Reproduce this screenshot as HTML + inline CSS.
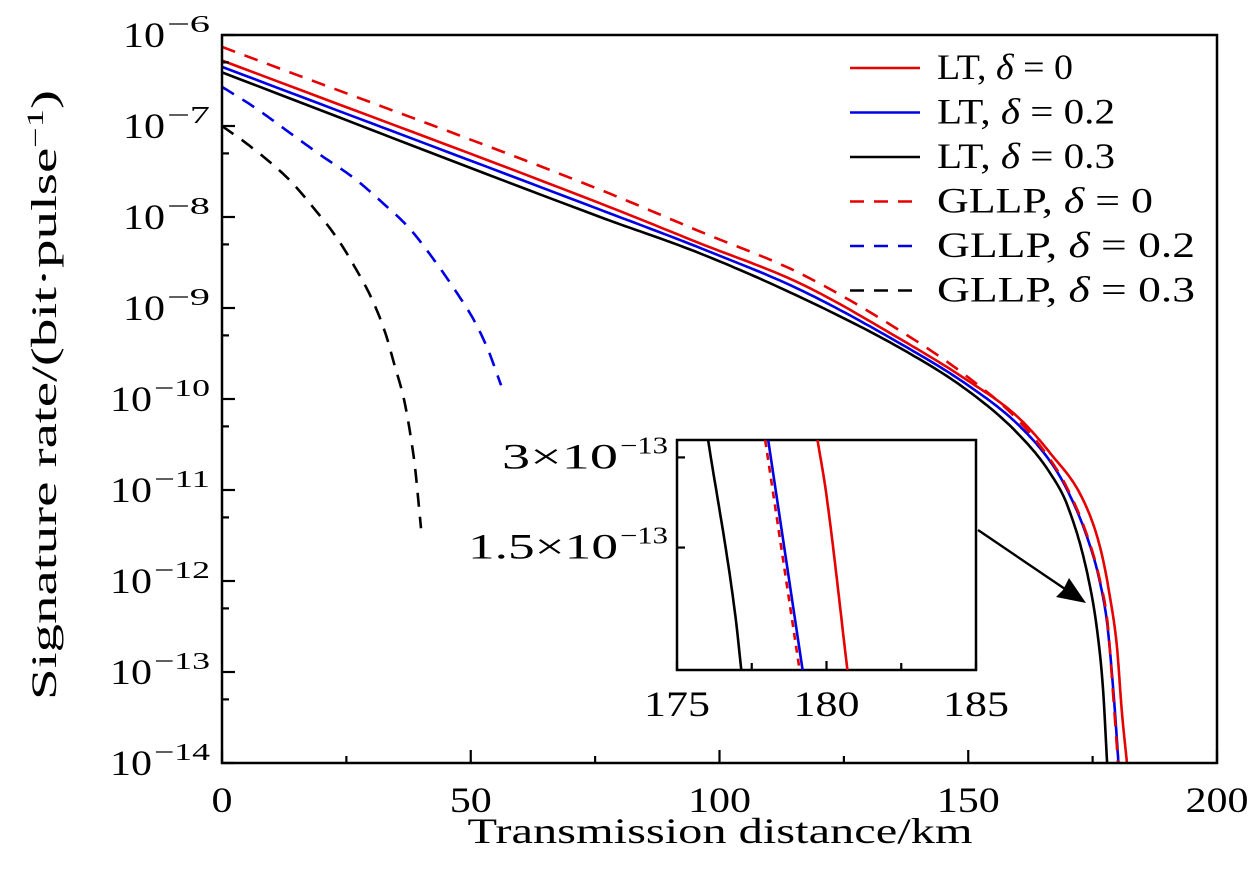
<!DOCTYPE html>
<html><head><meta charset="utf-8"><style>
body{margin:0;background:#fff}
svg{font-family:"Liberation Serif",serif}
</style></head><body>
<svg id="c" width="1260" height="890" viewBox="0 0 1260 890" xmlns="http://www.w3.org/2000/svg"></svg>
<script>
const xTicks=[0,50,100,150,200];
const xMinor=[25,75,125,175];
const yDecades=[-6,-7,-8,-9,-10,-11,-12,-13,-14];
const ltD0X=[0,76,96.1,116.2,136.3,149.7,159.8,166.4,173.1,176.5,178.5,179.9,180.9,181.9];
const ltD0Y=[-6.28,-7.85,-8.29,-8.73,-9.34,-9.79,-10.19,-10.59,-11.11,-11.63,-12.18,-12.73,-13.45,-14];
const ltD2X=[0,76,96.1,116.2,136.3,149.7,159.8,166.4,169.8,173.9,176.5,178,179.2,180.2];
const ltD2Y=[-6.35,-7.92,-8.34,-8.80,-9.39,-9.84,-10.27,-10.68,-10.99,-11.52,-12.02,-12.5,-13.23,-14];
const ltD3X=[0,76,96.1,116.2,136.3,149.7,159.8,166.4,170.0,173.9,175.9,177.1,177.9];
const ltD3Y=[-6.41,-8.0,-8.40,-8.88,-9.44,-9.90,-10.37,-10.81,-11.18,-11.91,-12.54,-13.2,-14];
const glD0X=[0,76,96.1,116.2,136.3,149.7,159.8,166.4,169.8,173.9,176.5,178,179.1,180.1];
const glD0Y=[-6.13,-7.70,-8.16,-8.62,-9.25,-9.75,-10.22,-10.66,-10.97,-11.5,-12.0,-12.46,-13.23,-14];
const glD2X=[0,6.4,13.5,20.1,26.7,32.2,37.6,42.2,46.8,50.9,53.7,56.1];
const glD2Y=[-6.57,-6.79,-7.07,-7.33,-7.58,-7.84,-8.12,-8.44,-8.80,-9.16,-9.49,-9.85];
const glD3X=[0,5.6,13.5,18.7,23.1,26.7,30.2,32.8,34.8,36.6,37.8,38.8,39.6,40.0];
const glD3Y=[-7.0,-7.22,-7.59,-7.92,-8.23,-8.55,-8.91,-9.27,-9.65,-10.01,-10.37,-10.75,-11.19,-11.42];
const inXTicks=[175,180,185];
const inXMinor=[177.5,182.5];
const inYTicks=[3e-13,1.5e-13];
const inYLabels=["3","1.5"];
const inLt0X=[179.7,180.0,180.7], inLt0Y=[-12.465,-12.65,-13.233];
const inLt2X=[178.05,179.2], inLt2Y=[-12.465,-13.233];
const inLt3X=[176.04,176.95,177.15], inLt3Y=[-12.465,-13.05,-13.233];
const inGl0X=[177.95,179.1], inGl0Y=[-12.465,-13.233];
const legendLabels=["LT, ","LT, ","LT, ","GLLP, ","GLLP, ","GLLP, "];
const legendDeltas=["0","0.2","0.3","0","0.2","0.3"];

const NS="http://www.w3.org/2000/svg";
const svg=document.getElementById('c');
const L=222,R=1217,T=35,B=763;
const X=v=>L+(v-0)/200*(R-L);
const Y=lg=>T+(-6-lg)/8*(B-T);
const IL=677,IR=976,IT=440,IB=670,IYmin=Math.log10(5.85e-14),IYmax=Math.log10(3.43e-13);
const IX=v=>IL+(v-175)/10*(IR-IL);
const IY=lg=>IB-(lg-IYmin)/(IYmax-IYmin)*(IB-IT);
function el(tag,attrs,parent){const e=document.createElementNS(NS,tag);for(const k in attrs)e.setAttribute(k,attrs[k]);(parent||svg).appendChild(e);return e;}
const defs=el('defs',{});
const cp=el('clipPath',{id:'mainclip'},defs);el('rect',{x:L,y:T,width:R-L,height:B-T},cp);
const cp2=el('clipPath',{id:'inclip'},defs);el('rect',{x:IL,y:IT,width:IR-IL,height:IB-IT},cp2);

function smooth(xs,ys){
  const n=xs.length; if(n<3) return xs.map((x,i)=>[x,ys[i]]);
  const d=[],m=[];
  for(let i=0;i<n-1;i++) d.push((ys[i+1]-ys[i])/(xs[i+1]-xs[i]));
  m[0]=d[0]; m[n-1]=d[n-2];
  for(let i=1;i<n-1;i++) m[i]=(d[i-1]*d[i]<=0)?0:(d[i-1]+d[i])/2;
  for(let i=0;i<n-1;i++){ if(d[i]===0){m[i]=m[i+1]=0;continue;}
    const a=m[i]/d[i],b=m[i+1]/d[i],s=a*a+b*b; if(s>9){const t=3/Math.sqrt(s);m[i]=t*a*d[i];m[i+1]=t*b*d[i];}}
  const out=[];
  for(let i=0;i<n-1;i++){const h=xs[i+1]-xs[i];
    for(let k=0;k<20;k++){const t=k/20,t2=t*t,t3=t2*t;
      const y=(2*t3-3*t2+1)*ys[i]+(t3-2*t2+t)*h*m[i]+(-2*t3+3*t2)*ys[i+1]+(t3-t2)*h*m[i+1];
      out.push([xs[i]+t*h,y]);}}
  out.push([xs[n-1],ys[n-1]]);
  return out;
}
function series(xs,ys,color,dash,name,fx,fy,clip){
  const pts=smooth(xs,ys);
  let d=pts.map((p,i)=>(i?'L':'M')+fx(p[0]).toFixed(1)+','+fy(p[1]).toFixed(1)).join('');
  const p=el('path',{d:d,fill:'none',stroke:color,'stroke-width':2.6,'clip-path':'url(#'+clip+')'});
  if(dash)p.setAttribute('stroke-dasharray',dash);
  
  
}
series(glD3X,glD3Y,'#000','14,10','gllp-delta-0.3-line',X,Y,'mainclip');
series(glD2X,glD2Y,'#0000e6','14,10','gllp-delta-0.2-line',X,Y,'mainclip');
series(ltD3X,ltD3Y,'#000',null,'lt-delta-0.3-line',X,Y,'mainclip');
series(ltD2X,ltD2Y,'#0000e6',null,'lt-delta-0.2-line',X,Y,'mainclip');
series(ltD0X,ltD0Y,'#e60000',null,'lt-delta-0-line',X,Y,'mainclip');
series(glD0X,glD0Y,'#e60000','14,10','gllp-delta-0-line',X,Y,'mainclip');

const FS=36;
const fr=el('rect',{x:L,y:T,width:R-L,height:B-T,fill:'none',stroke:'#000','stroke-width':2.5});

xTicks.forEach(v=>{
  el('line',{x1:X(v),x2:X(v),y1:B,y2:B-13,stroke:'#000','stroke-width':2.2});
  const s=String(v);
  const t=el('text',{x:X(v),y:812,'font-size':FS,'text-anchor':'middle',textLength:s.length*21,lengthAdjust:'spacingAndGlyphs'});t.textContent=s;
  
});
xMinor.forEach(v=>el('line',{x1:X(v),x2:X(v),y1:B,y2:B-7,stroke:'#000','stroke-width':2.2}));
yDecades.forEach(d=>{
  el('line',{x1:L,x2:L+13,y1:Y(d),y2:Y(d),stroke:'#000','stroke-width':2.2});
  if(d>-14){const m=d-1+Math.log10(5);el('line',{x1:L,x2:L+7,y1:Y(m),y2:Y(m),stroke:'#000','stroke-width':2.2});}
  const sup=(d<=-10)?58:45;
  const t=el('text',{x:210-sup,y:Y(d)+12,'font-size':FS,'text-anchor':'end',textLength:42,lengthAdjust:'spacingAndGlyphs'});
  t.textContent='10';
  
  const s=el('text',{x:210-sup+2,y:Y(d)-3,'font-size':24,textLength:sup-2,lengthAdjust:'spacingAndGlyphs'});
  s.textContent='−'+(-d);
  
});
const xt=el('text',{x:720,y:843,'font-size':FS,'text-anchor':'middle',textLength:505,lengthAdjust:'spacingAndGlyphs'});xt.textContent='Transmission distance/km';

const yt=el('text',{x:0,y:0,'font-size':FS,'text-anchor':'middle',transform:'translate(56,395) rotate(-90)',textLength:610,lengthAdjust:'spacingAndGlyphs'});
yt.innerHTML='Signature rate/(bit·pulse<tspan dy="-13" font-size="23">−1</tspan><tspan dy="13">)</tspan>';


const lc=['#e60000','#0000e6','#000','#e60000','#0000e6','#000'];
legendLabels.forEach((lab,i)=>{
  const y=68+i*44.5;
  const g=el('g',{});
  
  const ln=el('line',{x1:850,x2:920,y1:y,y2:y,stroke:lc[i],'stroke-width':2.6},g);
  if(i>=3)ln.setAttribute('stroke-dasharray','14,10');
  const w=(lab.length>4?80:0)+178+(legendDeltas[i].length>1?0:-42);
  const t=el('text',{x:937,y:y+11,'font-size':FS,textLength:w,lengthAdjust:'spacingAndGlyphs'},g);
  t.innerHTML=lab+'<tspan font-style="italic">δ</tspan> = '+legendDeltas[i];
});

const ib=el('rect',{x:IL,y:IT,width:IR-IL,height:IB-IT,fill:'#fff',stroke:'#000','stroke-width':2.5});

series(inLt3X,inLt3Y,'#000',null,'inset-lt-delta-0.3-line',IX,IY,'inclip');
series(inLt2X,inLt2Y,'#0000e6',null,'inset-lt-delta-0.2-line',IX,IY,'inclip');
series(inGl0X,inGl0Y,'#e60000','7,6','inset-gllp-delta-0-line',IX,IY,'inclip');
series(inLt0X,inLt0Y,'#e60000',null,'inset-lt-delta-0-line',IX,IY,'inclip');
inXTicks.forEach(v=>{
  el('line',{x1:IX(v),x2:IX(v),y1:IB,y2:IB-9,stroke:'#000','stroke-width':2.2});
  const t=el('text',{x:IX(v),y:716,'font-size':FS,'text-anchor':'middle',textLength:66,lengthAdjust:'spacingAndGlyphs'});t.textContent=v;
  
});
inXMinor.forEach(v=>el('line',{x1:IX(v),x2:IX(v),y1:IB,y2:IB-7,stroke:'#000','stroke-width':2.2}));
inYTicks.forEach((v,i)=>{
  const y=IY(Math.log10(v));
  el('line',{x1:IL,x2:IL+8,y1:y,y2:y,stroke:'#000','stroke-width':2.2});
  const w=inYLabels[i].length>1?150:116;
  const t=el('text',{x:618,y:y+11,'font-size':FS,'text-anchor':'end',textLength:w,lengthAdjust:'spacingAndGlyphs'});
  t.textContent=inYLabels[i]+'×10';
  
  const s=el('text',{x:620,y:y-4,'font-size':24,textLength:48,lengthAdjust:'spacingAndGlyphs'});
  s.textContent='−13';
  
});
const ar=el('line',{x1:978,y1:530,x2:1065,y2:589,stroke:'#000','stroke-width':2.4});

const ah=el('polygon',{points:'1086,603 1056,597 1063,590 1069,578',fill:'#000'});

</script>
</body></html>
